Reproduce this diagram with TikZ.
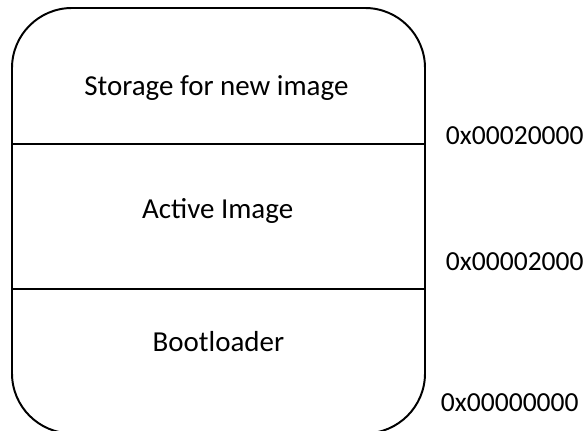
\documentclass[tikz,border=0pt]{standalone}
\usepackage{fontspec}
\setmainfont{Carlito}

\begin{document}
\begin{tikzpicture}
        \useasboundingbox (0, 0) rectangle (14.7, 10.775);
        \tikzset{
            region/.style={font=\fontsize{20.6}{24}\selectfont, anchor=base},
            address/.style={font=\fontsize{19.6}{24}\selectfont, anchor=base west}
        }

        % flash memory map
        \begin{scope}
            \coordinate (flash sw) at (0.3, -0.06);
            \coordinate (flash ne) at (10.625, 10.575);
            \draw[line width=1.4pt, rounded corners=1.5cm] (flash sw) rectangle (flash ne);
            \draw[line width=1pt] (0.3, 7.175) coordinate (split1 w) -- (10.625, 7.175) coordinate (split1 e);
            \draw[line width=1pt] (0.3, 3.55) coordinate (split2 w) -- (10.625, 3.55) coordinate (split2 e);
        \end{scope}

        \node[region] (storage) at (5.41, 8.375) {Storage for new image};
        \node[region] (active) at (5.44, 5.3) {Active Image};
        \node[region] (boot) at (5.46, 1.975) {Bootloader};

        \node[address] (addr1) at (11.025, 7.15) {0x00020000};
        \node[address] (addr2) at (11.025, 4.0) {0x00002000};
        \node[address] (addr3) at (10.9, 0.475) {0x00000000};
    \end{tikzpicture}
\end{document}
